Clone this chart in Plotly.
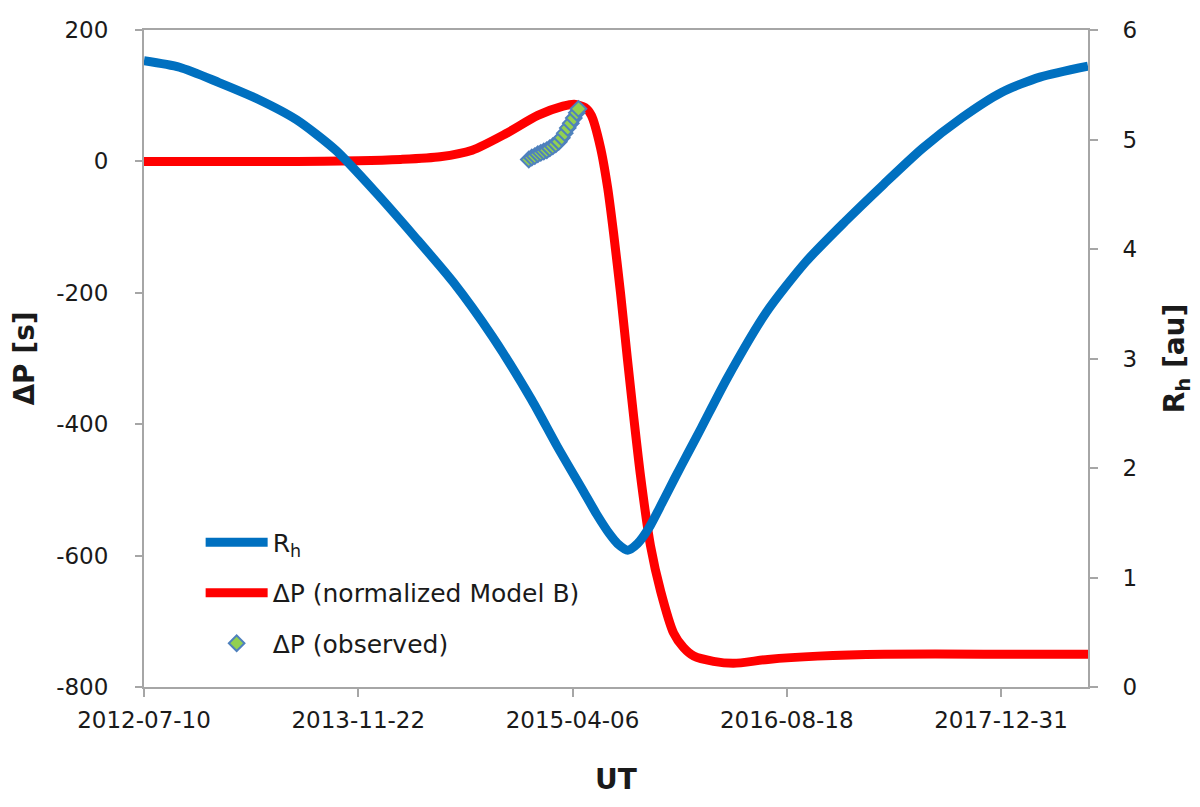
import plotly.graph_objects as go

# ---- Heliocentric distance R_h [au] (right axis) ----
rh_dates = ["2012-07-10", "2012-10-01", "2013-01-01", "2013-04-01", "2013-07-01",
            "2013-10-01", "2014-01-01", "2014-04-01", "2014-07-01", "2014-10-01",
            "2015-01-01", "2015-03-01", "2015-05-01", "2015-06-01", "2015-07-01",
            "2015-07-20", "2015-08-13", "2015-09-05", "2015-10-01", "2015-11-01",
            "2015-12-01", "2016-01-01", "2016-02-01", "2016-04-01", "2016-07-01",
            "2016-10-01", "2017-01-01", "2017-04-01", "2017-07-01", "2017-10-01",
            "2018-01-01", "2018-04-01", "2018-07-22"]
rh_values = [5.72, 5.66, 5.52, 5.37, 5.18,
             4.90, 4.52, 4.12, 3.70, 3.20,
             2.62, 2.20, 1.79, 1.58, 1.40,
             1.31, 1.25, 1.31, 1.45, 1.68,
             1.91, 2.14, 2.37, 2.82, 3.42,
             3.88, 4.25, 4.59, 4.92, 5.20,
             5.43, 5.57, 5.67]

# ---- Delta P, normalized Model B [s] (left axis) ----
dp_dates = ["2012-07-10", "2013-07-01", "2013-11-22", "2014-03-01", "2014-06-01",
            "2014-08-15", "2014-11-01", "2015-01-15", "2015-03-15", "2015-04-10",
            "2015-05-05", "2015-05-20", "2015-06-10", "2015-06-27", "2015-07-11",
            "2015-07-27", "2015-08-12", "2015-08-27", "2015-09-12", "2015-10-05",
            "2015-10-29", "2015-11-28", "2015-12-21", "2016-01-14", "2016-02-29",
            "2016-04-16", "2016-07-05", "2016-10-29", "2017-04-02", "2017-11-21",
            "2018-07-22"]
dp_values = [0, 0, 1, 3, 7,
             17, 42, 70, 84, 87,
             82, 70, 22, -40, -110,
             -200, -300, -390, -480, -585,
             -655, -718, -740, -753, -761,
             -764, -758, -753, -750, -750,
             -750]

# ---- Delta P observed [s] ----
obs_dates = ["2014-12-25", "2015-01-01", "2015-01-08", "2015-01-15", "2015-01-22",
             "2015-01-29", "2015-02-05", "2015-02-12", "2015-02-19", "2015-02-26",
             "2015-03-05", "2015-03-12", "2015-03-19", "2015-03-26", "2015-04-02",
             "2015-04-09", "2015-04-16", "2015-04-20"]
obs_values = [3, 6, 8, 11, 13,
              15, 17, 20, 23, 26,
              30, 36, 43, 51, 58,
              66, 74, 80]

# ---- axis ticks ----
x_tickvals = ["2012-07-10", "2013-11-22", "2015-04-06", "2016-08-18", "2017-12-31"]
y_tickvals = [-800, -600, -400, -200, 0, 200]
y_ticktext = ["-800", "-600", "-400", "-200", "0", "200"]
y2_tickvals = [0, 1, 2, 3, 4, 5, 6]

FONT = "DejaVu Sans"
AXCOL = "#A6A6A6"

fig = go.Figure()
fig.add_trace(go.Scatter(
    x=rh_dates, y=rh_values, yaxis="y2", mode="lines", name="R<sub>h</sub>",
    line=dict(color="#0070C0", width=9, shape="spline", smoothing=0.7),
    legendgroup="a"))
fig.add_trace(go.Scatter(
    x=dp_dates, y=dp_values, mode="lines", name="ΔP (normalized Model B)",
    line=dict(color="#FF0000", width=9, shape="spline", smoothing=0.7),
    legendgroup="b"))
fig.add_trace(go.Scatter(
    x=obs_dates, y=obs_values, mode="markers", name="ΔP (observed)",
    marker=dict(symbol="diamond", size=12, color="#92D050",
                line=dict(color="#4F81BD", width=2)),
    legendgroup="c"))

fig.update_layout(
    template="none",
    width=1200, height=807,
    margin=dict(l=136, r=120, t=22, b=128, autoexpand=False),
    paper_bgcolor="white", plot_bgcolor="white",
    font=dict(family=FONT, size=23, color="#1a1a1a"),
    showlegend=True,
    legend=dict(x=0.06, y=0.255, xanchor="left", yanchor="top",
                bgcolor="rgba(0,0,0,0)", font=dict(size=25, family=FONT),
                tracegroupgap=15, traceorder="grouped", itemwidth=62),
    xaxis=dict(
        type="date", range=["2012-07-10", "2018-07-22"],
        tickvals=x_tickvals, ticktext=x_tickvals,
        ticks="outside", ticklen=8, tickcolor=AXCOL, tickwidth=2,
        showline=True, linecolor=AXCOL, linewidth=2, mirror=True,
        showgrid=False, zeroline=False, ticklabelstandoff=3, automargin=False,
        tickfont=dict(size=23),
        title=dict(text="<b>UT</b>", font=dict(size=28), standoff=38)),
    yaxis=dict(
        range=[-800, 200], tickvals=y_tickvals, ticktext=y_ticktext,
        ticks="outside", ticklen=7, tickcolor=AXCOL, tickwidth=2,
        showline=True, linecolor=AXCOL, linewidth=2,
        showgrid=False, zeroline=False, ticklabelstandoff=22, automargin=False,
        tickfont=dict(size=23),
        title=dict(text="<b>ΔP [s]</b>", font=dict(size=28), standoff=22)),
    yaxis2=dict(
        range=[0, 6], tickvals=y2_tickvals,
        overlaying="y", side="right",
        ticks="outside", ticklen=8, tickcolor=AXCOL, tickwidth=2,
        showline=True, linecolor=AXCOL, linewidth=2,
        showgrid=False, zeroline=False, ticklabelstandoff=20, automargin=False,
        tickfont=dict(size=23),
        title=dict(text="<b>R<sub>h</sub> [au]</b>", font=dict(size=28), standoff=28)),
)

fig.write_html("out.html")
